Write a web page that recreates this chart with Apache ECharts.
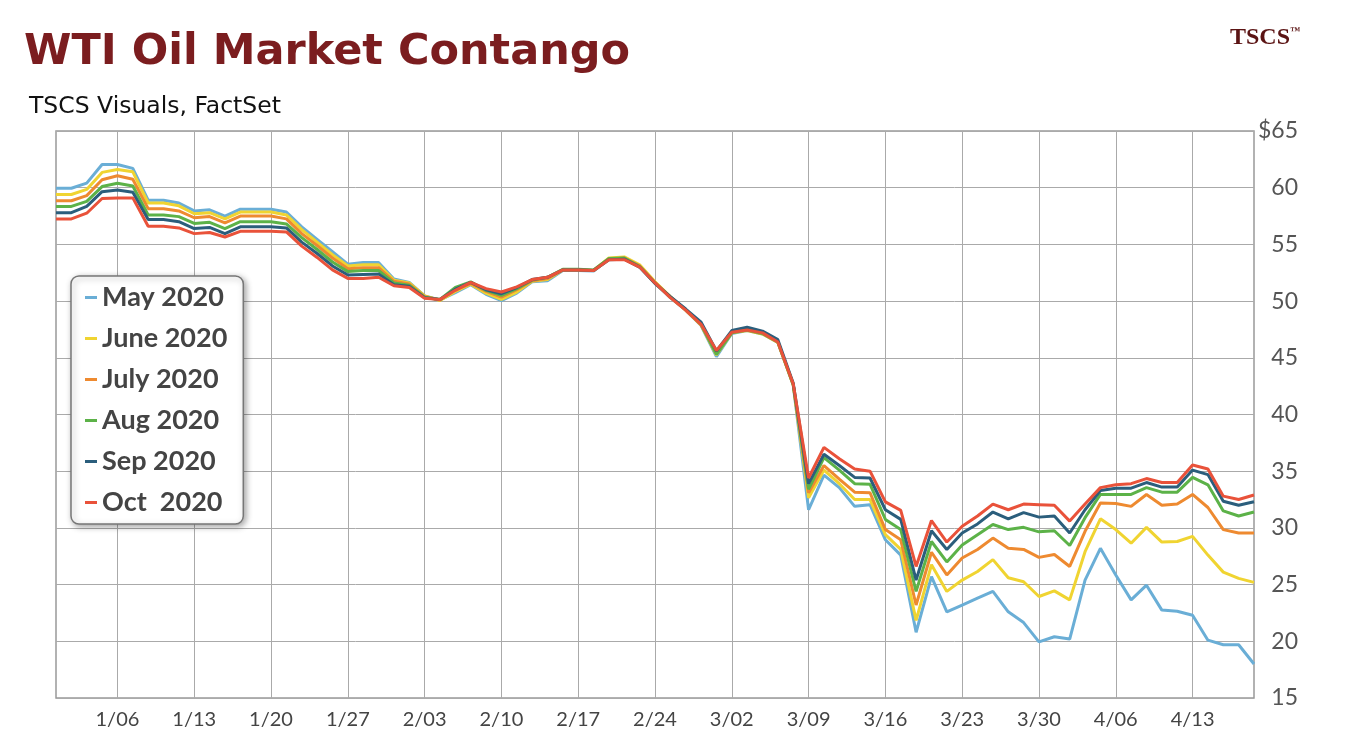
<!DOCTYPE html>
<html>
<head>
<meta charset="utf-8">
<script src="https://cdn.jsdelivr.net/npm/echarts@6/dist/echarts.min.js"></script>
<style>
html,body{margin:0;padding:0;background:#fff;}
#c{width:1355px;height:753px;}
</style>
</head>
<body>
<div id="c"></div>
<script>
const dates = ['12/31','1/01','1/02','1/03',
'1/06','1/07','1/08','1/09','1/10',
'1/13','1/14','1/15','1/16','1/17',
'1/20','1/21','1/22','1/23','1/24',
'1/27','1/28','1/29','1/30','1/31',
'2/03','2/04','2/05','2/06','2/07',
'2/10','2/11','2/12','2/13','2/14',
'2/17','2/18','2/19','2/20','2/21',
'2/24','2/25','2/26','2/27','2/28',
'3/02','3/03','3/04','3/05','3/06',
'3/09','3/10','3/11','3/12','3/13',
'3/16','3/17','3/18','3/19','3/20',
'3/23','3/24','3/25','3/26','3/27',
'3/30','3/31','4/01','4/02','4/03',
'4/06','4/07','4/08','4/09','4/10',
'4/13','4/14','4/15','4/16','4/17'];

const xTickLabels = ['1/06','1/13','1/20','1/27','2/03','2/10','2/17','2/24','3/02','3/09','3/16','3/23','3/30','4/06','4/13'];

const may2020 = [59.95,59.95,60.4,62.05,62.05,61.7,58.9,58.9,58.65,57.95,58.05,57.5,58.1,58.1,58.1,57.85,
56.55,55.45,54.35,53.25,53.4,53.4,51.95,51.65,50.45,50.1,
50.75,51.45,50.6,50.05,50.7,51.7,51.8,52.7,52.7,52.65,
53.7,53.75,53.0,51.6,50.3,49.2,47.85,45.1,47.15,47.4,
47.1,46.35,42.6,31.6,34.65,33.55,31.9,32.05,28.95,27.6,
20.8,25.7,22.6,23.2,23.8,24.4,22.6,21.65,19.95,20.4,
20.2,25.4,28.2,25.85,23.65,24.95,22.75,22.65,22.3,20.1,
19.7,19.7,18.0];

const jun2020 = [59.4,59.4,59.85,61.35,61.6,61.4,58.65,58.65,58.4,57.7,57.8,57.25,57.85,57.85,57.85,57.6,
56.3,55.2,54.1,53.1,53.2,53.2,51.85,51.6,50.45,50.05,
50.85,51.5,50.7,50.15,50.8,51.75,51.9,52.75,52.75,52.7,
53.8,53.9,53.2,51.7,50.4,49.2,47.9,45.25,47.2,47.4,
47.1,46.35,42.6,32.65,35.1,33.9,32.5,32.5,29.4,28.1,
21.85,26.75,24.4,25.4,26.15,27.2,25.6,25.25,23.95,24.45,
23.65,27.9,30.8,29.85,28.65,30.05,28.75,28.8,29.25,27.6,
26.1,25.55,25.2];

const jul2020 = [58.85,58.85,59.3,60.7,61.05,60.75,58.15,58.15,57.95,57.35,57.45,56.9,57.5,57.5,57.5,57.25,
55.95,54.9,53.8,52.85,52.95,52.95,51.75,51.5,50.4,50.1,
51.0,51.55,50.85,50.35,51.0,51.8,52.0,52.75,52.75,52.7,
53.7,53.8,53.1,51.65,50.35,49.2,47.9,45.35,47.25,47.45,
47.15,46.4,42.65,33.1,35.5,34.3,33.15,33.1,29.85,28.95,
23.2,27.85,25.85,27.35,28.1,29.1,28.2,28.1,27.4,27.65,
26.6,29.7,32.2,32.15,31.9,32.95,32.0,32.1,32.95,31.8,
29.85,29.55,29.55];

const aug2020 = [58.35,58.35,58.8,60.1,60.4,60.15,57.6,57.6,57.45,56.85,56.95,56.4,57.0,57.0,57.0,56.8,
55.6,54.55,53.45,52.6,52.7,52.7,51.6,51.4,50.35,50.15,
51.2,51.7,50.95,50.5,51.1,51.85,52.1,52.8,52.8,52.75,
53.75,53.8,53.05,51.6,50.35,49.25,47.95,45.3,47.2,47.45,
47.15,46.4,42.65,33.4,36.2,35.1,33.9,33.85,30.75,29.85,
24.4,28.8,27.0,28.5,29.4,30.3,29.85,30.05,29.65,29.75,
28.45,30.9,32.95,32.95,32.95,33.55,33.15,33.15,34.45,33.8,
31.5,31.05,31.4];

const sep2020 = [57.8,57.8,58.35,59.65,59.8,59.6,57.2,57.2,57.0,56.4,56.5,55.95,56.55,56.55,56.55,56.45,
55.2,54.2,53.1,52.3,52.35,52.4,51.45,51.3,50.3,50.15,
51.05,51.65,51.0,50.65,51.2,51.9,52.1,52.75,52.75,52.7,
53.65,53.7,53.0,51.55,50.4,49.3,48.15,45.6,47.4,47.7,
47.35,46.6,42.75,33.9,36.5,35.5,34.45,34.4,31.6,30.75,
25.4,29.75,28.1,29.55,30.35,31.4,30.8,31.35,30.95,31.05,
29.55,31.6,33.3,33.5,33.5,34.0,33.6,33.6,35.1,34.7,
32.35,32.0,32.3];

const oct2020 = [57.25,57.25,57.75,59.05,59.1,59.1,56.6,56.6,56.45,55.95,56.05,55.65,56.15,56.15,56.15,56.1,
54.85,53.85,52.75,52.0,52.0,52.1,51.35,51.2,50.25,50.15,
50.95,51.65,51.1,50.8,51.25,51.9,52.1,52.75,52.75,52.7,
53.65,53.65,53.0,51.6,50.3,49.2,47.95,45.65,47.25,47.45,
47.2,46.4,42.7,34.4,37.1,36.1,35.2,35.0,32.3,31.55,
26.6,30.65,28.75,30.15,31.05,32.1,31.6,32.1,32.05,32.0,
30.6,32.1,33.55,33.8,33.9,34.35,34.0,34.0,35.55,35.2,
32.8,32.5,32.9];

const seriesNames = ['May 2020','June 2020','July 2020','Aug 2020','Sep 2020','Oct  2020'];
const seriesData = [may2020, jun2020, jul2020, aug2020, sep2020, oct2020];
const colors = ['#6aaed6','#f0d431','#ee8a30','#5cb248','#2b5e7c','#e9523a'];

const isTick = (i, v) => xTickLabels.indexOf(dates[i]) >= 0;

const chart = echarts.init(document.getElementById('c'), null, {renderer:'canvas'});
chart.setOption({
  backgroundColor:'#ffffff',
  animation:false,
  color: colors,
  title:[
    {text:'WTI Oil Market Contango', left:19, top:26,
     textStyle:{fontFamily:'DejaVu Sans', fontWeight:'bold', fontSize:43, color:'#7b1d1f'}},
    {text:'TSCS Visuals, FactSet', left:24, top:90,
     textStyle:{fontFamily:'DejaVu Sans', fontWeight:'normal', fontSize:23.5, color:'#111'}},
    {text:'{a|TSCS}{b|™}', right:50, top:21,
     textStyle:{rich:{
       a:{fontFamily:'Liberation Serif', fontSize:24, color:'#5b1414', fontWeight:'bold'},
       b:{fontFamily:'Liberation Serif', fontSize:10, color:'#5b1414', verticalAlign:'top', padding:[0,0,10,0]}
     }}}
  ],
  legend:{
    orient:'vertical', left:71, top:276,
    data: seriesNames,
    backgroundColor:'#fff', borderColor:'#777', borderWidth:1.5, borderRadius:8,
    shadowColor:'rgba(0,0,0,0.35)', shadowBlur:6, shadowOffsetX:2, shadowOffsetY:2,
    padding:[8,16,8,14],
    itemWidth:12, itemHeight:3, itemGap:14, icon:'rect',
    textStyle:{fontFamily:'Lato', fontWeight:'bold', fontSize:27, color:'#444'}
  },
  grid:{left:56, right:101, top:131, bottom:55, show:true, borderColor:'#999', borderWidth:1.5, backgroundColor:'transparent'},
  xAxis:{
    type:'category', data:dates, boundaryGap:false,
    axisLine:{show:false}, axisTick:{show:false},
    axisLabel:{interval:isTick, fontFamily:'Lato', fontSize:20, color:'#444', margin:12},
    splitLine:{show:true, interval:isTick, lineStyle:{color:'#aaa', width:1}}
  },
  yAxis:{
    type:'value', position:'right', min:15, max:65, interval:5,
    axisLine:{show:false}, axisTick:{show:false},
    axisLabel:{fontFamily:'Lato', fontSize:23, color:'#555', align:'right', margin:44,
      formatter:(v)=> v===65 ? '$65' : String(v)},
    splitLine:{lineStyle:{color:'#aaa', width:1}}
  },
  series: seriesNames.map((n,k)=>({
    name:n, type:'line', data:seriesData[k], showSymbol:false, symbol:'none',
    lineStyle:{width:3, color:colors[k]}, itemStyle:{color:colors[k]}
  }))
});
</script>
</body>
</html>
